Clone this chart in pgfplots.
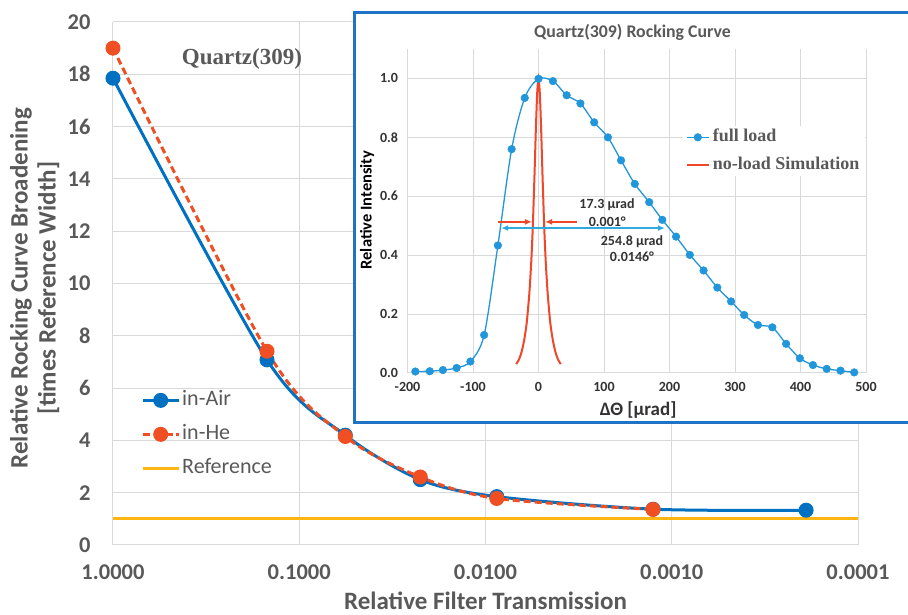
\documentclass[border=0pt]{standalone}
\usepackage{fontspec}
\setmainfont{Carlito}
\newfontfamily\tnr{Liberation Serif}
\usepackage{pgfplots}
\pgfplotsset{compat=1.18}
\usetikzlibrary{arrows.meta}
\definecolor{airblue}{HTML}{0070C0}
\definecolor{hered}{HTML}{F04E23}
\definecolor{refgold}{HTML}{FFB612}
\definecolor{loadblue}{HTML}{2196DB}
\definecolor{simred}{HTML}{F0462A}
\definecolor{arrowblue}{HTML}{2EAADF}
\definecolor{boxblue}{HTML}{1F72C4}
\definecolor{gridgray}{HTML}{D9D9D9}
\definecolor{txtgray}{HTML}{595959}
\definecolor{darktxt}{HTML}{333333}

\begin{document}
\begin{tikzpicture}[x=1pt,y=1pt]
% main chart
\begin{axis}[
  at={(113pt,70pt)}, anchor=south west,
  scale only axis, width=745pt, height=523pt,
  xmode=log, x dir=reverse,
  xmin=0.0001, xmax=1, ymin=0, ymax=20,
  xtick={1,0.1,0.01,0.001,0.0001},
  xticklabels={1.0000,0.1000,0.0100,0.0010,0.0001},
  ytick={0,2,4,6,8,10,12,14,16,18,20},
  grid=major, major grid style={draw=gridgray, line width=1pt},
  axis line style={draw=none},
  major tick length=0pt,
  /pgf/number format/assume math mode=true,
  tick label style={font=\fontsize{22.5}{26}\selectfont\bfseries, text=txtgray},
  xticklabel style={yshift=-16pt},
  yticklabel style={xshift=-19pt},
  xlabel={Relative Filter Transmission},
  ylabel={Relative Rocking Curve Broadening\\{}{[times Reference Width]}},
  label style={font=\fontsize{25}{28}\selectfont\bfseries, text=txtgray},
  xlabel style={at={(axis description cs:0.5,-0.106)}, anchor=center},
  ylabel style={at={(axis description cs:-0.105,0.491)}, anchor=center, align=center},
  legend style={at={(axis description cs:0.0376,0.297)}, anchor=north west,
    draw=none, fill=none, font=\fontsize{22}{26}\selectfont, text=txtgray,
    nodes={text height=16pt, text depth=5pt, inner sep=0pt, inner xsep=2pt},
    row sep=13pt, inner sep=0pt},
  legend cell align=left,
  legend image code/.code={\draw[mark repeat=2,mark phase=2,#1] plot coordinates {(0pt,0pt) (18pt,0pt) (36pt,0pt)};},
]
\addplot[airblue, line width=3pt, smooth, mark=*, mark size=7pt, mark options={solid, line width=1pt}] coordinates {
  (1,17.85) (0.149,7.08) (0.0566,4.2) (0.0224,2.5) (0.0087,1.85) (0.00126,1.37) (0.00019,1.33)
};
\addlegendentry{in-Air}
\addplot[hered, line width=3pt, dash pattern=on 7pt off 4pt, smooth, mark=*, mark size=7pt, mark options={solid, line width=1pt}] coordinates {
  (1,19.0) (0.149,7.41) (0.0566,4.15) (0.0224,2.6) (0.0087,1.78) (0.00126,1.36)
};
\addlegendentry{in-He}
\addplot[refgold, line width=3pt] coordinates {(1,1) (0.0001,1)};
\addlegendentry{Reference}
\node[font=\tnr\fontsize{23}{26}\selectfont\bfseries, text=txtgray] at (axis cs:0.203,18.58) {Quartz(309)};
\end{axis}

% inset frame
\fill[white] (354,602) rectangle (930,192);
\draw[boxblue, line width=3pt] (930,602) -- (354,602) -- (354,192) -- (930,192);
\node[font=\fontsize{17.8}{20}\selectfont\bfseries, text=txtgray] at (632.5,583) {Quartz(309) Rocking Curve};

% inset chart
\begin{axis}[
  at={(407.5pt,242pt)}, anchor=south west,
  scale only axis, width=458.5pt, height=324pt,
  xmin=-200, xmax=500, ymin=0, ymax=1.1,
  xtick={-200,-100,0,100,200,300,400,500},
  ytick={0,0.2,0.4,0.6,0.8,1.0},
  grid=major, major grid style={draw=gridgray, line width=1pt},
  axis line style={draw=none},
  major tick length=0pt,
  /pgf/number format/assume math mode=true,
  tick label style={font=\fontsize{14}{16}\selectfont\bfseries, text=darktxt},
  xticklabel style={yshift=-6pt},
  yticklabel style={xshift=-6pt, /pgf/number format/.cd, fixed, fixed zerofill, precision=1},
  xlabel={ΔΘ [μrad]},
  xlabel style={at={(axis description cs:0.503,-0.114)}, anchor=center,
    font=\fontsize{19}{22}\selectfont\bfseries, text=darktxt},
  ylabel={Relative Intensity},
  ylabel style={at={(axis description cs:-0.088,0.503)}, anchor=center,
    font=\fontsize{16.5}{19}\selectfont\bfseries, text=black},
  legend style={at={(axis description cs:0.600,0.762)}, anchor=north west,
    draw=none, fill=white, font=\tnr\fontsize{18}{21}\selectfont\bfseries, text=txtgray,
    nodes={text height=12pt, text depth=4pt, inner sep=0pt, inner xsep=3pt},
    row sep=12pt, inner sep=3pt},
  legend cell align=left,
  legend image code/.code={\draw[mark repeat=2,mark phase=2,#1] plot coordinates {(0pt,0pt) (11pt,0pt) (22pt,0pt)};},
]
\addplot[loadblue, line width=1.3pt, smooth, mark=*, mark size=3.8pt, mark options={solid, line width=0.5pt}] coordinates {
  (-188,0.005) (-166,0.006) (-146,0.010) (-125,0.017) (-104,0.039) (-83,0.129)
  (-62,0.433) (-41,0.760) (-21,0.934) (0,0.999) (22,0.991) (43,0.943) (64,0.915)
  (85,0.851) (106,0.800) (126,0.722) (147,0.642) (169,0.580) (189,0.520) (210,0.463)
  (231,0.401) (252,0.348) (273,0.290) (294,0.243) (314,0.197) (335,0.163) (357,0.155)
  (378,0.099) (399,0.050) (419,0.027) (440,0.014) (461,0.008) (482,0.002)
};
\addlegendentry{full load}
\addplot[simred, line width=2pt, smooth, tension=0.4] coordinates {
  (-34,0.03) (-30,0.045) (-26,0.07) (-22,0.11) (-18,0.17) (-14,0.27) (-11,0.38)
  (-8.65,0.5) (-6,0.68) (-4,0.83) (-2,0.95) (0,1.0) (2,0.95) (4,0.83) (6,0.68)
  (8.65,0.5) (11,0.38) (14,0.27) (18,0.17) (22,0.11) (26,0.07) (30,0.045) (34,0.03)
};
\addlegendentry{no-load Simulation}
\draw[simred, line width=1.5pt, -{Latex[length=7pt,width=6pt]}] (axis cs:-62,0.513) -- (axis cs:-10,0.513);
\draw[simred, line width=1.5pt, -{Latex[length=7pt,width=6pt]}] (axis cs:59,0.513) -- (axis cs:10,0.513);
\draw[arrowblue, line width=1.5pt, {Latex[length=7pt,width=6pt]}-{Latex[length=7pt,width=6pt]}] (axis cs:-57,0.492) -- (axis cs:193,0.492);
\node[font=\fontsize{14}{16}\selectfont\bfseries, text=darktxt] at (axis cs:104.6,0.570) {17.3 μrad};
\node[font=\fontsize{14}{16}\selectfont\bfseries, text=darktxt] at (axis cs:105,0.513) {0.001°};
\node[font=\fontsize{14}{16}\selectfont\bfseries, text=darktxt] at (axis cs:142.7,0.445) {254.8 μrad};
\node[font=\fontsize{14}{16}\selectfont\bfseries, text=darktxt] at (axis cs:142.7,0.394) {0.0146°};
\end{axis}

\pgfresetboundingbox
\useasboundingbox (0,0) rectangle (908,615);
\end{tikzpicture}
\end{document}
